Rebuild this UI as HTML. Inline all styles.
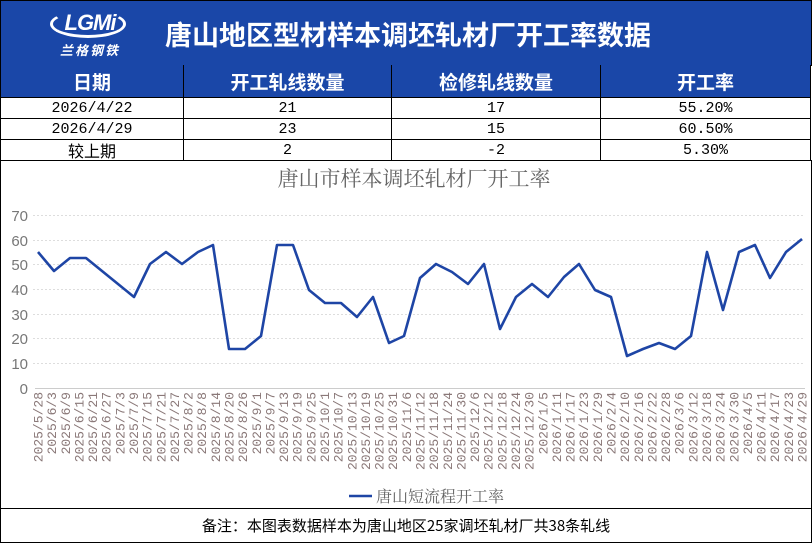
<!DOCTYPE html>
<html><head><meta charset="utf-8"><style>
body{margin:0;width:812px;height:543px;overflow:hidden;background:#fff;font-family:"Liberation Sans","Noto Sans CJK SC",sans-serif;}
.a{position:absolute;box-sizing:border-box;}
.hd{background:#1a47a8;color:#fff;}
.c{display:flex;align-items:center;justify-content:center;border-right:1.5px solid #000;border-bottom:1.5px solid #000;}
.t{font-family:"Liberation Mono","Noto Sans CJK SC",monospace;font-size:15px;color:#000;}
.h{font-family:"Noto Sans CJK SC",sans-serif;font-weight:bold;font-size:19px;color:#fff;}
</style></head><body>
<div class="a hd" style="left:0;top:0;width:812px;height:66px;border:1.5px solid #000;"></div>
<div class="a" style="left:50px;top:10px;width:76px;height:28px;border:3px solid #fff;border-radius:50%;border-top-color:transparent;"></div>
<div class="a" style="left:58px;top:10px;width:64px;font:italic bold 22px 'Liberation Sans',sans-serif;color:#fff;text-align:center;letter-spacing:-1px;">LGMi</div>
<div class="a" style="left:52px;top:40px;width:76px;font:bold 13px 'Noto Sans CJK SC',sans-serif;color:#fff;text-align:center;letter-spacing:2px;font-style:italic;">兰格钢铁</div>
<div class="a" style="left:165px;top:14px;font:bold 27px 'Noto Sans CJK SC',sans-serif;color:#fff;white-space:nowrap;">唐山地区型材样本调坯轧材厂开工率数据</div>

<div class="a hd c h" style="left:0;top:65px;width:184px;height:33px;border-left:1.5px solid #000;">日期</div>
<div class="a hd c h" style="left:184px;top:65px;width:208px;height:33px;">开工轧线数量</div>
<div class="a hd c h" style="left:392px;top:65px;width:209px;height:33px;">检修轧线数量</div>
<div class="a hd c h" style="left:601px;top:65px;width:210px;height:33px;">开工率</div>

<div class="a c t" style="left:0;top:98px;width:184px;height:21px;border-left:1.5px solid #000;">2026/4/22</div>
<div class="a c t" style="left:184px;top:98px;width:208px;height:21px;">21</div>
<div class="a c t" style="left:392px;top:98px;width:209px;height:21px;">17</div>
<div class="a c t" style="left:601px;top:98px;width:210px;height:21px;">55.20%</div>
<div class="a c t" style="left:0;top:119px;width:184px;height:21px;border-left:1.5px solid #000;">2026/4/29</div>
<div class="a c t" style="left:184px;top:119px;width:208px;height:21px;">23</div>
<div class="a c t" style="left:392px;top:119px;width:209px;height:21px;">15</div>
<div class="a c t" style="left:601px;top:119px;width:210px;height:21px;">60.50%</div>
<div class="a c t" style="left:0;top:140px;width:184px;height:21px;border-left:1.5px solid #000;font-size:16px;">较上期</div>
<div class="a c t" style="left:184px;top:140px;width:208px;height:21px;">2</div>
<div class="a c t" style="left:392px;top:140px;width:209px;height:21px;">-2</div>
<div class="a c t" style="left:601px;top:140px;width:210px;height:21px;">5.30%</div>

<div class="a" style="left:0;top:160px;width:812px;height:349px;border-left:1.5px solid #000;border-right:1.5px solid #000;border-bottom:1.5px solid #000;"></div>
<div class="a" style="left:0;top:509px;width:812px;height:34px;border-left:1.5px solid #000;border-right:1.5px solid #000;border-bottom:1.5px solid #000;font:15px 'Noto Sans CJK SC',sans-serif;display:flex;align-items:center;justify-content:center;">备注：本图表数据样本为唐山地区25家调坯轧材厂共38条轧线</div>

<svg class="a" style="left:0;top:0" width="812" height="543">
<text x="414" y="186" text-anchor="middle" font-family="Noto Serif CJK SC,serif" font-size="21" fill="#666">唐山市样本调坯轧材厂开工率</text>
<g stroke="#ddd" stroke-dasharray="2,2" stroke-width="1">
<line x1="33" x2="805" y1="215.5" y2="215.5"/><line x1="33" x2="805" y1="240.5" y2="240.5"/><line x1="33" x2="805" y1="264.5" y2="264.5"/><line x1="33" x2="805" y1="289.5" y2="289.5"/><line x1="33" x2="805" y1="314.5" y2="314.5"/><line x1="33" x2="805" y1="338.5" y2="338.5"/><line x1="33" x2="805" y1="363.5" y2="363.5"/>
</g>
<line x1="35" x2="805" y1="388.5" y2="388.5" stroke="#ccc"/>
<g font-size="15" fill="#777" text-anchor="end" font-family="Liberation Sans,sans-serif">
<text x="28" y="221">70</text><text x="28" y="246">60</text><text x="28" y="270">50</text><text x="28" y="295">40</text><text x="28" y="320">30</text><text x="28" y="344">20</text><text x="28" y="369">10</text><text x="28" y="394">0</text>
</g>
<polyline fill="none" stroke="#1e45a5" stroke-width="2.6" stroke-linejoin="round" points="38,252 54,271 70,258 86,258 102,271 118,284 134,297 150,264 166,252 182,264 198,252 213,245 229,349 245,349 261,336 277,245 293,245 309,290 325,303 341,303 357,317 373,297 389,343 404,336 420,278 436,264 452,272 468,284 484,264 500,329 516,297 532,284 548,297 564,277 579,264 595,290 611,297 627,356 643,349 659,343 675,349 691,336 707,252 723,310 739,252 755,245 770,278 786,252 802,239"/>
<g font-family="Liberation Mono,monospace" font-size="13" fill="#8a7878" text-anchor="end">
<text transform="translate(42.5,392) rotate(-90)">2025/5/28</text>
<text transform="translate(56.1,392) rotate(-90)">2025/6/3</text>
<text transform="translate(69.8,392) rotate(-90)">2025/6/9</text>
<text transform="translate(83.4,392) rotate(-90)">2025/6/15</text>
<text transform="translate(97.1,392) rotate(-90)">2025/6/21</text>
<text transform="translate(110.7,392) rotate(-90)">2025/6/27</text>
<text transform="translate(124.4,392) rotate(-90)">2025/7/3</text>
<text transform="translate(138,392) rotate(-90)">2025/7/9</text>
<text transform="translate(151.6,392) rotate(-90)">2025/7/15</text>
<text transform="translate(165.3,392) rotate(-90)">2025/7/21</text>
<text transform="translate(178.9,392) rotate(-90)">2025/7/27</text>
<text transform="translate(192.6,392) rotate(-90)">2025/8/2</text>
<text transform="translate(206.2,392) rotate(-90)">2025/8/8</text>
<text transform="translate(219.9,392) rotate(-90)">2025/8/14</text>
<text transform="translate(233.5,392) rotate(-90)">2025/8/20</text>
<text transform="translate(247.1,392) rotate(-90)">2025/8/26</text>
<text transform="translate(260.8,392) rotate(-90)">2025/9/1</text>
<text transform="translate(274.4,392) rotate(-90)">2025/9/7</text>
<text transform="translate(288.1,392) rotate(-90)">2025/9/13</text>
<text transform="translate(301.7,392) rotate(-90)">2025/9/19</text>
<text transform="translate(315.4,392) rotate(-90)">2025/9/25</text>
<text transform="translate(329,392) rotate(-90)">2025/10/1</text>
<text transform="translate(342.6,392) rotate(-90)">2025/10/7</text>
<text transform="translate(356.3,392) rotate(-90)">2025/10/13</text>
<text transform="translate(369.9,392) rotate(-90)">2025/10/19</text>
<text transform="translate(383.6,392) rotate(-90)">2025/10/25</text>
<text transform="translate(397.2,392) rotate(-90)">2025/10/31</text>
<text transform="translate(410.9,392) rotate(-90)">2025/11/6</text>
<text transform="translate(424.5,392) rotate(-90)">2025/11/12</text>
<text transform="translate(438.1,392) rotate(-90)">2025/11/18</text>
<text transform="translate(451.8,392) rotate(-90)">2025/11/24</text>
<text transform="translate(465.4,392) rotate(-90)">2025/11/30</text>
<text transform="translate(479.1,392) rotate(-90)">2025/12/6</text>
<text transform="translate(492.7,392) rotate(-90)">2025/12/12</text>
<text transform="translate(506.4,392) rotate(-90)">2025/12/18</text>
<text transform="translate(520,392) rotate(-90)">2025/12/24</text>
<text transform="translate(533.6,392) rotate(-90)">2025/12/30</text>
<text transform="translate(547.3,392) rotate(-90)">2026/1/5</text>
<text transform="translate(560.9,392) rotate(-90)">2026/1/11</text>
<text transform="translate(574.6,392) rotate(-90)">2026/1/17</text>
<text transform="translate(588.2,392) rotate(-90)">2026/1/23</text>
<text transform="translate(601.9,392) rotate(-90)">2026/1/29</text>
<text transform="translate(615.5,392) rotate(-90)">2026/2/4</text>
<text transform="translate(629.1,392) rotate(-90)">2026/2/10</text>
<text transform="translate(642.8,392) rotate(-90)">2026/2/16</text>
<text transform="translate(656.4,392) rotate(-90)">2026/2/22</text>
<text transform="translate(670.1,392) rotate(-90)">2026/2/28</text>
<text transform="translate(683.7,392) rotate(-90)">2026/3/6</text>
<text transform="translate(697.4,392) rotate(-90)">2026/3/12</text>
<text transform="translate(711,392) rotate(-90)">2026/3/18</text>
<text transform="translate(724.6,392) rotate(-90)">2026/3/24</text>
<text transform="translate(738.3,392) rotate(-90)">2026/3/30</text>
<text transform="translate(751.9,392) rotate(-90)">2026/4/5</text>
<text transform="translate(765.6,392) rotate(-90)">2026/4/11</text>
<text transform="translate(779.2,392) rotate(-90)">2026/4/17</text>
<text transform="translate(792.9,392) rotate(-90)">2026/4/23</text>
<text transform="translate(806.5,392) rotate(-90)">2026/4/29</text>
</g>
<line x1="349" x2="372" y1="496" y2="496" stroke="#1e45a5" stroke-width="2.6"/>
<text x="376" y="502" font-family="Noto Serif CJK SC,serif" font-size="16" fill="#666">唐山短流程开工率</text>
</svg>
</body></html>
